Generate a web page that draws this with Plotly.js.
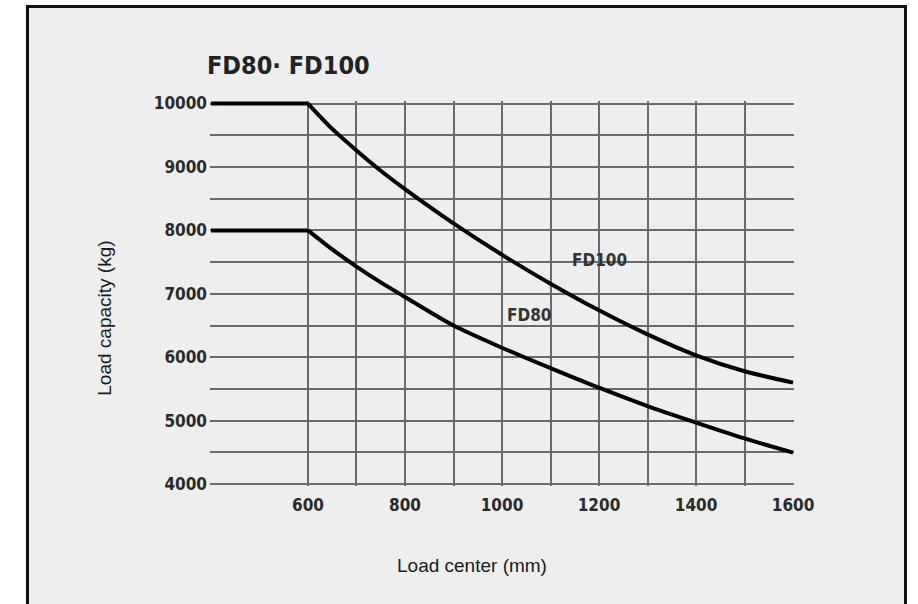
<!DOCTYPE html>
<html>
<head>
<meta charset="utf-8">
<script src="https://cdn.plot.ly/plotly-3.0.1.min.js"></script>
<style>
  html, body { margin: 0; padding: 0; background: #ffffff; overflow: hidden; }
  #wrap { position: relative; width: 918px; height: 604px; overflow: hidden; background: #ffffff; }
  #frame { position: absolute; left: 26px; top: 5px; width: 875px; height: 700px;
           border: 3px solid #111111; border-bottom: none; background: #eeeeee; }
  #chart { position: absolute; left: 0; top: 0; width: 918px; height: 604px; }
</style>
</head>
<body>
<div id="wrap">
  <div id="frame"></div>
  <div id="chart"></div>
</div>
<script>
// ---- data ----
const loadCenter = [400, 600, 650, 700, 750, 800, 900, 1000, 1100, 1200, 1300, 1400, 1500, 1600];
const fd100 = [10000, 10000, 9600, 9260, 8940, 8650, 8110, 7615, 7160, 6740, 6360, 6030, 5780, 5600];
const fd80  = [8000, 8000, 7700, 7430, 7180, 6950, 6500, 6150, 5830, 5520, 5230, 4970, 4720, 4495];

const xTickVals = [600, 800, 1000, 1200, 1400, 1600];
const xMinorVals = [400, 700, 900, 1100, 1300, 1500];
const yTickVals = [4000, 5000, 6000, 7000, 8000, 9000, 10000];
const yMinorVals = [4500, 5500, 6500, 7500, 8500, 9500];

const seriesNames = ['FD100', 'FD80'];
const labelPos = { FD100: [1200, 7530], FD80: [1055, 6660] };

const chartTitle = 'FD80· FD100';
const xTitle = 'Load center (mm)';
const yTitle = 'Load capacity (kg)';

// ---- styling ----
const condBold = 'DejaVu Sans Condensed, DejaVu Sans, Liberation Sans Narrow, sans-serif';
const regular = 'Liberation Sans, Arial, sans-serif';
const gridCol = '#6a6a6a';
const flatEnd = 2; // flat rated-capacity part = first two points (up to 600 mm)

function seriesTraces(name, ys) {
  return [
    { x: loadCenter.slice(0, flatEnd), y: ys.slice(0, flatEnd), name: name, mode: 'lines', type: 'scatter',
      line: { color: '#000000', width: 4 } },
    { x: loadCenter.slice(flatEnd - 1), y: ys.slice(flatEnd - 1), name: name, mode: 'lines', type: 'scatter',
      line: { color: '#000000', width: 4, shape: 'spline', smoothing: 0.8 } }
  ];
}

const traces = [].concat(seriesTraces(seriesNames[0], fd100), seriesTraces(seriesNames[1], fd80));

const layout = {
  width: 918, height: 604,
  margin: { l: 210, r: 124, t: 100.5, b: 118, pad: 0 },
  paper_bgcolor: 'rgba(0,0,0,0)',
  plot_bgcolor: 'rgba(0,0,0,0)',
  showlegend: false,
  hovermode: false,
  title: {
    text: chartTitle,
    xref: 'container', yref: 'container',
    x: 207 / 918, xanchor: 'left',
    y: 1 - 65 / 604, yanchor: 'middle',
    font: { family: condBold, size: 25, color: '#222222', weight: 'bold' }
  },
  xaxis: {
    range: [398, 1602],
    tickmode: 'array', tickvals: xTickVals, ticktext: xTickVals.map(String),
    ticks: '', showline: false, zeroline: false,
    showgrid: true, gridcolor: gridCol, gridwidth: 2,
    minor: { tickmode: 'array', tickvals: xMinorVals, showgrid: true, gridcolor: gridCol, gridwidth: 2, ticks: '' },
    ticklabelstandoff: 7,
    tickfont: { family: condBold, size: 17, color: '#2a2a2a', weight: 'bold' },
    fixedrange: true
  },
  yaxis: {
    range: [3970, 10040],
    tickmode: 'array', tickvals: yTickVals, ticktext: yTickVals.map(String),
    ticks: '', showline: false, zeroline: false,
    showgrid: true, gridcolor: gridCol, gridwidth: 2,
    minor: { tickmode: 'array', tickvals: yMinorVals, showgrid: true, gridcolor: gridCol, gridwidth: 2, ticks: '' },
    ticklabelstandoff: 2,
    tickfont: { family: condBold, size: 17, color: '#2a2a2a', weight: 'bold' },
    fixedrange: true
  },
  annotations: [
    { text: seriesNames[0], x: labelPos.FD100[0], y: labelPos.FD100[1], xref: 'x', yref: 'y',
      showarrow: false, xanchor: 'center', yanchor: 'middle',
      font: { family: condBold, size: 17, color: '#333333', weight: 'bold' } },
    { text: seriesNames[1], x: labelPos.FD80[0], y: labelPos.FD80[1], xref: 'x', yref: 'y',
      showarrow: false, xanchor: 'center', yanchor: 'middle',
      font: { family: condBold, size: 17, color: '#333333', weight: 'bold' } },
    { text: xTitle, xref: 'paper', yref: 'paper', x: (472 - 210) / 584, y: (486 - 566) / 385.5,
      showarrow: false, xanchor: 'center', yanchor: 'middle',
      font: { family: regular, size: 19, color: '#1a1a1a' } },
    { text: yTitle, xref: 'paper', yref: 'paper', x: (105 - 210) / 584, y: (486 - 318.5) / 385.5,
      showarrow: false, xanchor: 'center', yanchor: 'middle', textangle: -90,
      font: { family: regular, size: 19, color: '#1a1a1a' } }
  ]
};

Plotly.newPlot('chart', traces, layout, { displayModeBar: false, staticPlot: true, responsive: false });
</script>
</body>
</html>
